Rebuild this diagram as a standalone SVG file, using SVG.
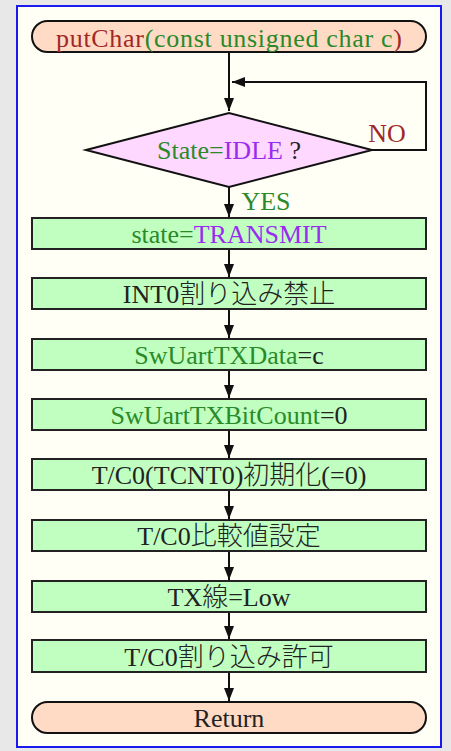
<svg xmlns="http://www.w3.org/2000/svg" width="451" height="751" viewBox="0 0 451 751">
<defs>
<style>
.t{font-family:"Liberation Serif","Noto Sans CJK JP",serif;font-size:26px;font-weight:300;text-anchor:middle;fill:#222}
.g{fill:#2a8a2a}.p{fill:#9a2cf0}.r{fill:#a02828}
.box{fill:#c0ffc0;stroke:#222;stroke-width:2}
.term{fill:#ffdac4;stroke:#111;stroke-width:2}
.c{fill:none;stroke:#111;stroke-width:2}
</style>
<marker id="ah" markerUnits="userSpaceOnUse" markerWidth="14" markerHeight="10" refX="13" refY="5" orient="auto">
<path d="M0,0 L13,5 L0,10 z" fill="#111"/>
</marker>
</defs>
<rect x="0" y="0" width="451" height="751" fill="#e8e8e8"/>
<rect x="17" y="6" width="424" height="741" fill="#fffff6" stroke="#1a1aee" stroke-width="2"/>
<g id="connectors">
<path class="c" d="M229,52 V111" marker-end="url(#ah)"/>
<path class="c" d="M372,150 H426 V82 H232" marker-end="url(#ah)"/>
<path class="c" d="M229,187 V217" marker-end="url(#ah)"/>
<path class="c" d="M229,249 V277" marker-end="url(#ah)"/>
<path class="c" d="M229,309 V338" marker-end="url(#ah)"/>
<path class="c" d="M229,370 V398" marker-end="url(#ah)"/>
<path class="c" d="M229,430 V458" marker-end="url(#ah)"/>
<path class="c" d="M229,490 V519" marker-end="url(#ah)"/>
<path class="c" d="M229,551 V580" marker-end="url(#ah)"/>
<path class="c" d="M229,612 V639" marker-end="url(#ah)"/>
<path class="c" d="M229,672 V701" marker-end="url(#ah)"/>
<text class="t r" x="387" y="142">NO</text>
<text class="t g" x="266" y="210">YES</text>
</g>
<g id="start">
<rect class="term" x="32" y="21" width="394" height="31" rx="15.5"/>
<text class="t" x="229" y="47" textLength="346" lengthAdjust="spacing"><tspan class="r">putChar</tspan><tspan class="g">(const unsigned char c</tspan><tspan class="r">)</tspan></text>
</g>
<g id="decision">
<polygon points="86,150 229,113 372,150 229,187" fill="#ffd8ff" stroke="#111" stroke-width="2"/>
<text class="t" x="229" y="159"><tspan class="g">State=</tspan><tspan class="p">IDLE</tspan> ?</text>
</g>
<g id="n1">
<rect class="box" x="32" y="218" width="394" height="31"/>
<text class="t" x="229" y="243"><tspan class="g">state=</tspan><tspan class="p">TRANSMIT</tspan></text>
</g>
<g id="n2">
<rect class="box" x="32" y="278" width="394" height="31"/>
<text class="t" x="229" y="303">INT0割り込み禁止</text>
</g>
<g id="n3">
<rect class="box" x="32" y="339" width="394" height="31"/>
<text class="t" x="229" y="364"><tspan class="g">SwUartTXData</tspan>=c</text>
</g>
<g id="n4">
<rect class="box" x="32" y="399" width="394" height="31"/>
<text class="t" x="229" y="424"><tspan class="g">SwUartTXBitCount</tspan>=0</text>
</g>
<g id="n5">
<rect class="box" x="32" y="459" width="394" height="31"/>
<text class="t" x="229" y="484">T/C0(TCNT0)初期化(=0)</text>
</g>
<g id="n6">
<rect class="box" x="32" y="520" width="394" height="31"/>
<text class="t" x="229" y="545">T/C0比較値設定</text>
</g>
<g id="n7">
<rect class="box" x="32" y="581" width="394" height="31"/>
<text class="t" x="229" y="606">TX線=Low</text>
</g>
<g id="n8">
<rect class="box" x="32" y="640" width="394" height="32"/>
<text class="t" x="229" y="666">T/C0割り込み許可</text>
</g>
<g id="end">
<rect class="term" x="32" y="702" width="394" height="31" rx="15.5"/>
<text class="t" x="229" y="727">Return</text>
</g>
</svg>
